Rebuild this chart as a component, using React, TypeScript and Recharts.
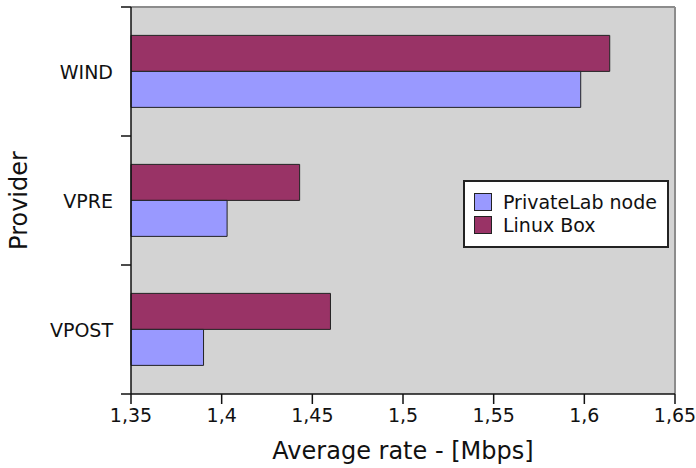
import React from 'react';
import { BarChart, Bar, XAxis, YAxis, CartesianGrid, Legend, Label } from 'recharts';

const providers = ['WIND', 'VPRE', 'VPOST'];
const privateLabRates = [1.598, 1.403, 1.39];
const linuxBoxRates = [1.614, 1.443, 1.46];
const xTicks = [1.35, 1.4, 1.45, 1.5, 1.55, 1.6, 1.65];
const seriesNames = ['PrivateLab node', 'Linux Box'];
const seriesColors = ['#9999ff', '#993366'];

const data = providers.map((name, i) => ({
  name,
  privateLab: privateLabRates[i],
  linuxBox: linuxBoxRates[i],
}));

const FONT = '"DejaVu Sans", Verdana, sans-serif';
const INK = '#111';

function YTick(props: any) {
  const { x, y, payload, index } = props;
  const off = payload && payload.offset != null ? payload.offset : 0;
  const last = index === providers.length - 1;
  return (
    <g>
      <line x1={x - 10} x2={x} y1={y - off} y2={y - off} stroke={INK} strokeWidth={1.5} />
      {last && <line x1={x - 10} x2={x} y1={y + off} y2={y + off} stroke={INK} strokeWidth={1.5} />}
      <text x={x - 18} y={y + 7} textAnchor="end" fontSize={19} fontFamily={FONT} fill={INK}>
        {payload.value}
      </text>
    </g>
  );
}

function LegendBox() {
  const rows = [0, 1];
  return (
    <div
      style={{
        position: 'relative',
        width: 206,
        height: 68,
        boxSizing: 'border-box',
        border: '2px solid #222',
        background: '#fff',
        fontFamily: FONT,
        fontSize: 19,
        color: INK,
      }}
    >
      {rows.map((i) => (
        <React.Fragment key={i}>
          <div
            style={{
              position: 'absolute',
              left: 9,
              top: 11 + i * 23,
              width: 18,
              height: 18,
              boxSizing: 'border-box',
              border: '1px solid #222',
              background: seriesColors[i],
            }}
          />
          <div
            style={{
              position: 'absolute',
              left: 38,
              top: 9.4 + i * 23,
              lineHeight: '22px',
              whiteSpace: 'nowrap',
            }}
          >
            {seriesNames[i]}
          </div>
        </React.Fragment>
      ))}
    </div>
  );
}

export default function App() {
  return (
    <div style={{ position: 'absolute', left: 0, top: 0 }}>
      <BarChart
        width={696}
        height={468}
        data={data}
        layout="vertical"
        margin={{ top: 7, right: 21, left: 0, bottom: 0 }}
        barCategoryGap="22%"
        barGap={0}
      >
        <CartesianGrid
          fill="#d3d3d3"
          stroke="#8c8c8c"
          strokeWidth={2}
          horizontalCoordinatesGenerator={(p: any) => [p.offset.top]}
          verticalCoordinatesGenerator={(p: any) => [p.offset.left + p.offset.width]}
        />
        <XAxis
          type="number"
          domain={[1.35, 1.65]}
          ticks={xTicks}
          interval={0}
          height={74}
          tickSize={10}
          tickMargin={5}
          tickFormatter={(v: number) => String(v).replace('.', ',')}
          tick={{ fontSize: 19, fontFamily: FONT, fill: INK }}
          tickLine={{ stroke: INK, strokeWidth: 1.5 }}
          axisLine={{ stroke: INK, strokeWidth: 1.5 }}
        >
          <Label
            value="Average rate - [Mbps]"
            position="insideBottom"
            offset={9}
            style={{ fontSize: 24, fontFamily: FONT, fill: INK }}
          />
        </XAxis>
        <YAxis
          type="category"
          dataKey="name"
          width={131}
          interval={0}
          tickSize={0}
          tickMargin={0}
          tickLine={false}
          axisLine={{ stroke: INK, strokeWidth: 1.5 }}
          tick={(p: any) => <YTick {...p} />}
        >
          <Label
            content={(p: any) => {
              const vb = p.viewBox || { x: 0, y: 7, width: 131, height: 387 };
              const cx = vb.x + 26.5;
              const cy = vb.y + vb.height / 2;
              return (
                <text
                  x={cx}
                  y={cy}
                  transform={`rotate(-90, ${cx}, ${cy})`}
                  textAnchor="middle"
                  fontSize={24}
                  fontFamily={FONT}
                  fill={INK}
                >
                  Provider
                </text>
              );
            }}
          />
        </YAxis>
        <Legend
          layout="horizontal"
          verticalAlign="middle"
          align="center"
          wrapperStyle={{ position: 'absolute', left: 463, top: 180, width: 206, height: 68 }}
          content={() => <LegendBox />}
        />
        <Bar
          dataKey="linuxBox"
          name={seriesNames[1]}
          fill={seriesColors[1]}
          stroke="#222"
          strokeWidth={1}
          isAnimationActive={false}
        />
        <Bar
          dataKey="privateLab"
          name={seriesNames[0]}
          fill={seriesColors[0]}
          stroke="#222"
          strokeWidth={1}
          isAnimationActive={false}
        />
      </BarChart>
    </div>
  );
}
